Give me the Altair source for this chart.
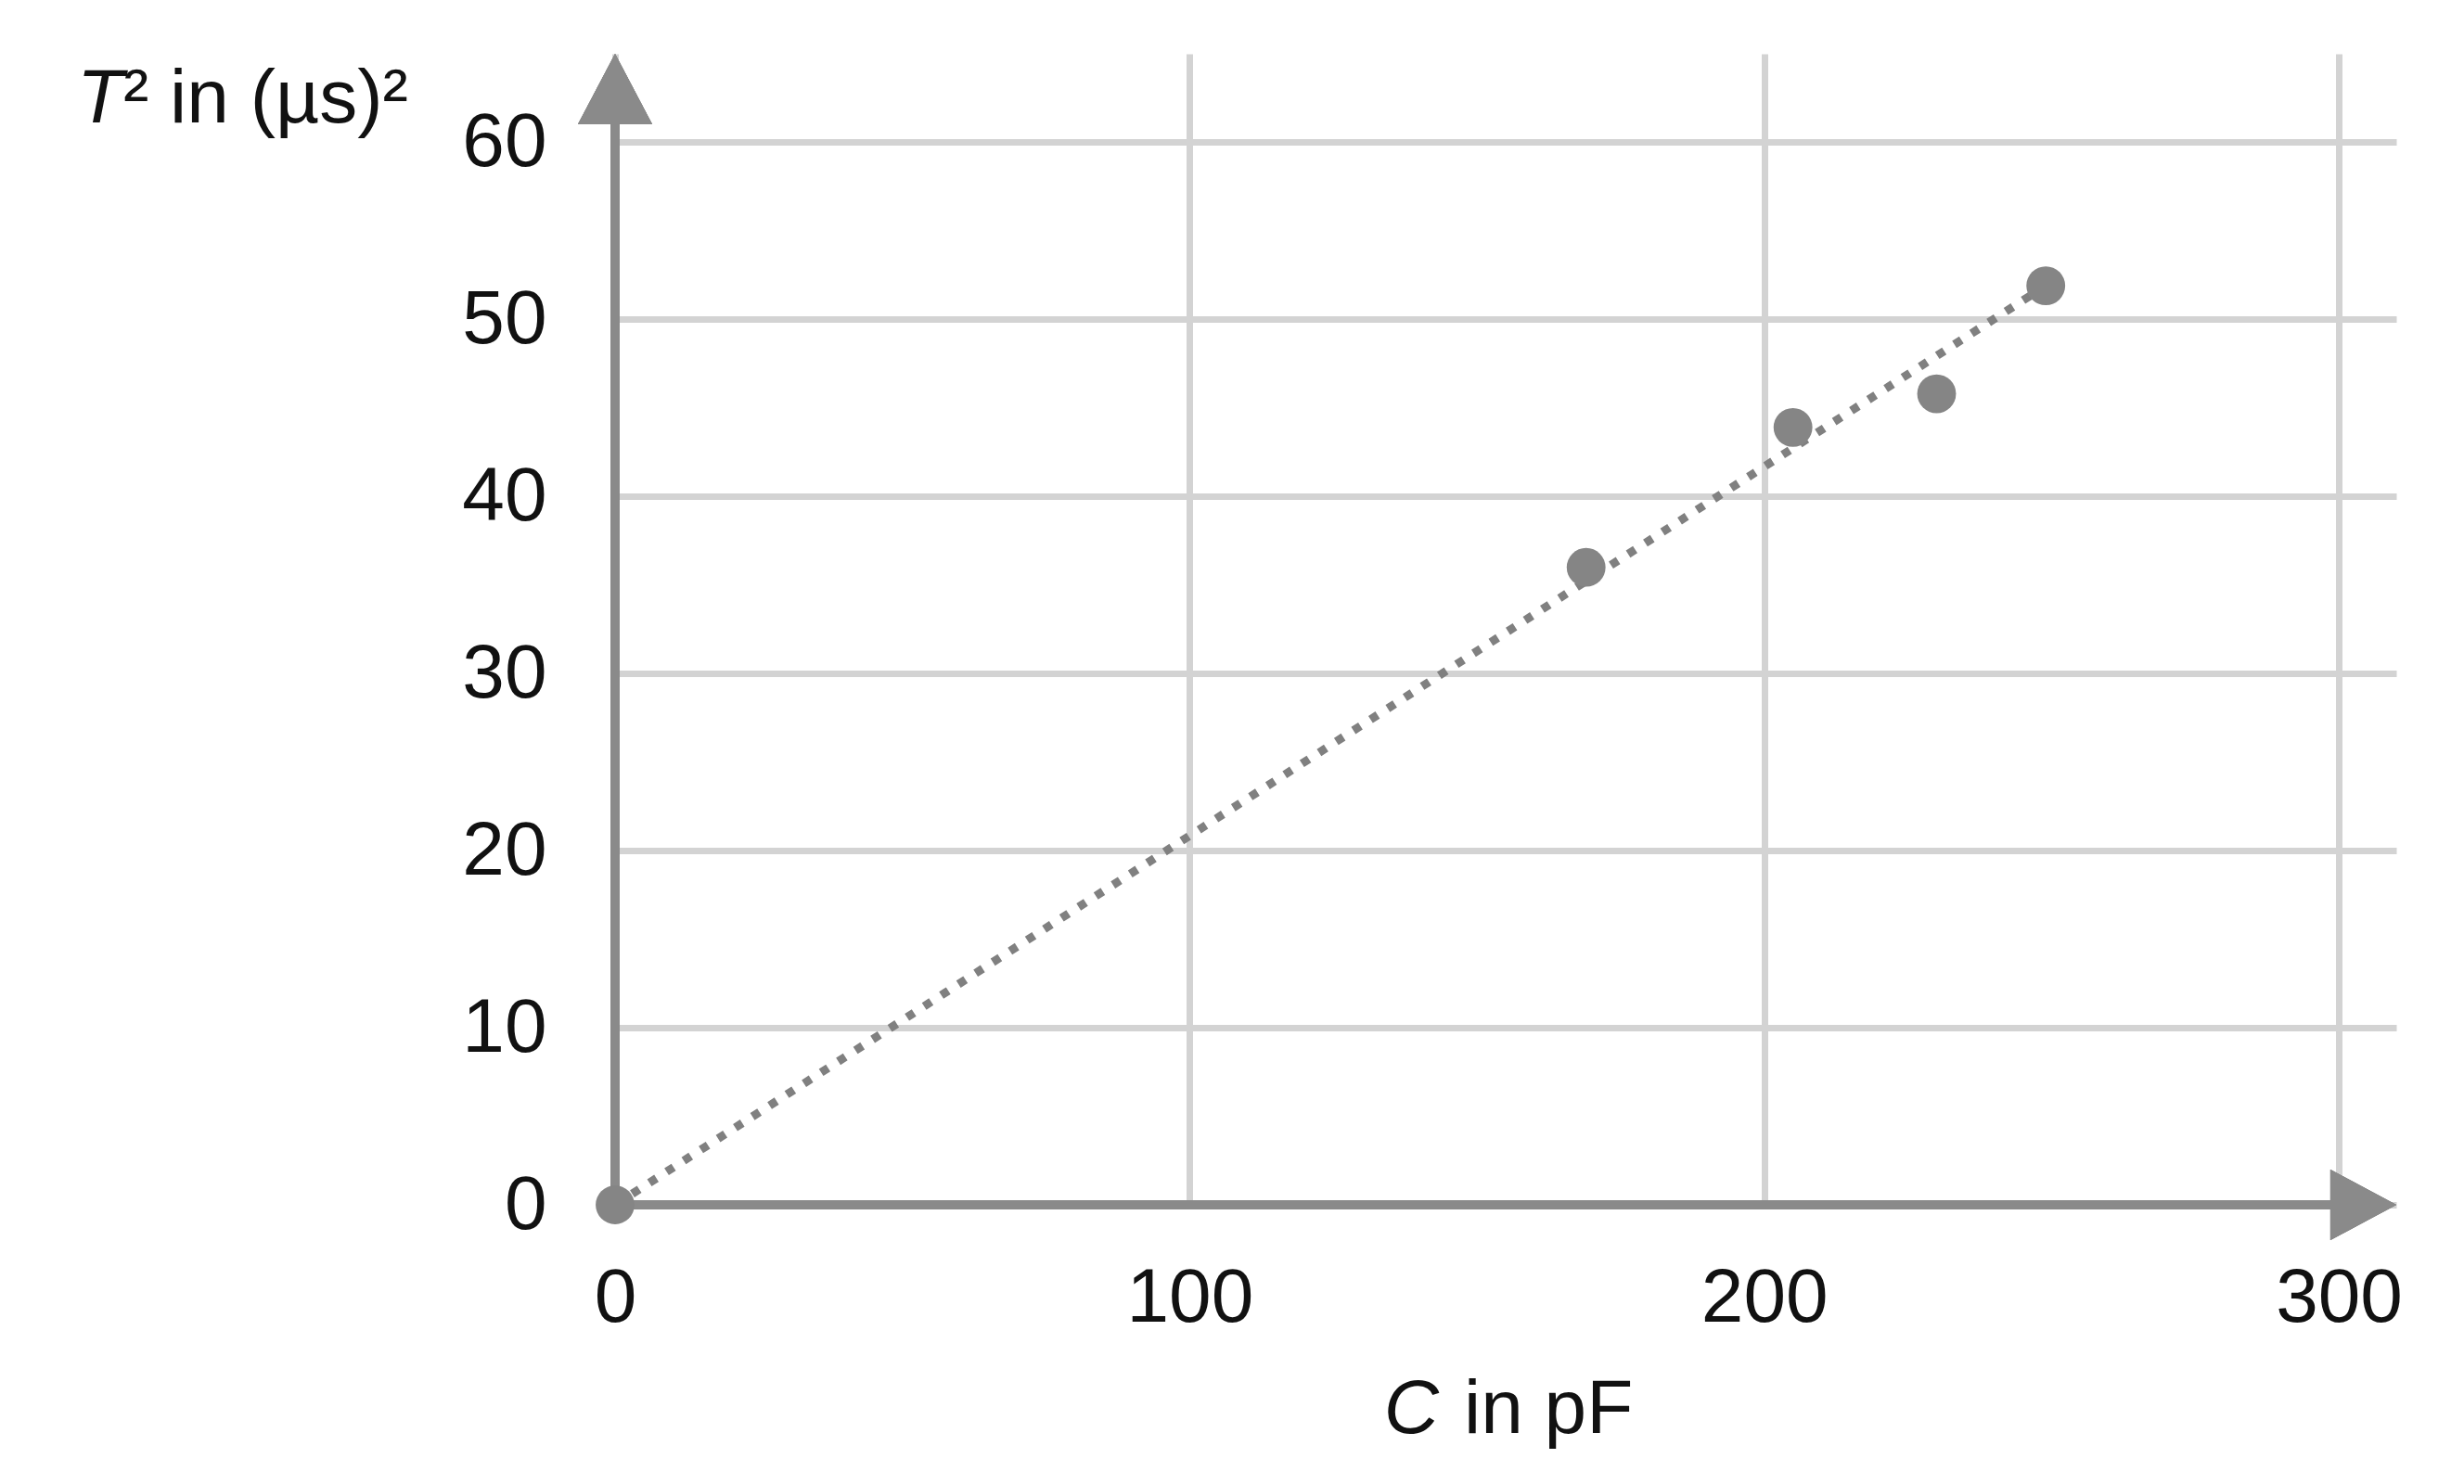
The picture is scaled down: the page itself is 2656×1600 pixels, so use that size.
import altair as alt
import pandas as pd

# ---- data ----
C_values = [0, 169, 205, 230, 249]          # C in pF
T2_values = [0, 36.0, 43.9, 45.8, 51.9]     # T^2 in (us)^2
fit_C = [0, 249]
fit_T2 = [0, 51.9]
x_ticks = [0, 100, 200, 300]
y_ticks = [0, 10, 20, 30, 40, 50, 60]
x_max = 310
y_max = 65

FONT = "Liberation Sans"
FS = 82
AXIS_COLOR = "#8a8a8a"
POINT_COLOR = "#858585"
GRID_COLOR = "#d3d3d3"

pts = pd.DataFrame({"C": C_values, "T2": T2_values})
fit = pd.DataFrame({"C": fit_C, "T2": fit_T2})

xs = alt.Scale(domain=[0, x_max], nice=False, zero=True)
ys = alt.Scale(domain=[0, y_max], nice=False, zero=True)

x_axis = alt.Axis(values=x_ticks, grid=True, gridColor=GRID_COLOR, gridWidth=7,
                  domain=False, ticks=False, tickSize=0, labelFont=FONT,
                  labelFontSize=FS, labelColor="#111111", labelPadding=60,
                  labelBaseline="top", labelFlush=False, labelOverlap=False,
                  title=None, format="d")
y_axis = alt.Axis(values=y_ticks, grid=True, gridColor=GRID_COLOR, gridWidth=7,
                  domain=False, ticks=False, tickSize=0, labelFont=FONT,
                  labelFontSize=FS, labelColor="#111111", labelPadding=74,
                  labelFlush=False, labelOverlap=False, title=None, format="d")

base = alt.Chart(pts)

grid = base.mark_point(opacity=0).encode(
    x=alt.X("C:Q", scale=xs, axis=x_axis),
    y=alt.Y("T2:Q", scale=ys, axis=y_axis),
)

x_line = alt.Chart(pts).mark_rule(color=AXIS_COLOR, strokeWidth=10).encode(
    x=alt.datum(0, scale=xs), x2=alt.datum(300), y=alt.datum(0, scale=ys))
y_line = alt.Chart(pts).mark_rule(color=AXIS_COLOR, strokeWidth=10).encode(
    x=alt.datum(0, scale=xs), y=alt.datum(0, scale=ys), y2=alt.datum(61))

fit_line = alt.Chart(fit).mark_line(color="#808080", strokeWidth=9,
                                    strokeDash=[9, 13], strokeCap="butt").encode(
    x=alt.X("C:Q", scale=xs), y=alt.Y("T2:Q", scale=ys))

points = base.mark_circle(size=1750, opacity=1, color=POINT_COLOR).encode(
    x=alt.X("C:Q", scale=xs), y=alt.Y("T2:Q", scale=ys))

arrow_x = alt.Chart(pts).mark_point(
    shape="M 0 0 L -1.87 -1 L -1.87 1 Z", size=5776, filled=True,
    opacity=1, color=AXIS_COLOR, strokeWidth=0).encode(
    x=alt.datum(x_max, scale=xs), y=alt.datum(0, scale=ys))
arrow_y = alt.Chart(pts).mark_point(
    shape="M 0 0 L 1 1.9 L -1 1.9 Z", size=6400, filled=True,
    opacity=1, color=AXIS_COLOR, strokeWidth=0).encode(
    x=alt.datum(0, scale=xs), y=alt.datum(y_max, scale=ys))

def txt(s, x, y, align, italic=False):
    return alt.Chart(pd.DataFrame({"t": [s]})).mark_text(
        font=FONT, fontSize=FS, color="#111111", align=align,
        baseline="alphabetic", fontStyle="italic" if italic else "normal").encode(
        text="t:N", x=alt.value(x), y=alt.value(y))

y_title_T = txt("T", -530, 74, "right", italic=True)
y_title_rest = txt("\u00b2 in (\u00b5s)\u00b2", -530, 74, "left")
x_title_C = txt("C", 888, 1487, "right", italic=True)
x_title_rest = txt("in pF", 915, 1487, "left")

chart = alt.layer(
    grid, x_line, y_line, fit_line, points, arrow_x, arrow_y,
    y_title_T, y_title_rest, x_title_C, x_title_rest,
).properties(
    width=1920, height=1241,
    autosize=alt.AutoSizeParams(type="none"),
    padding={"left": 655, "top": 50, "right": 65, "bottom": 293},
    background="#ffffff",
).configure_view(stroke=None)

chart.save("out.html", embed_options={"renderer": "svg", "actions": False})
